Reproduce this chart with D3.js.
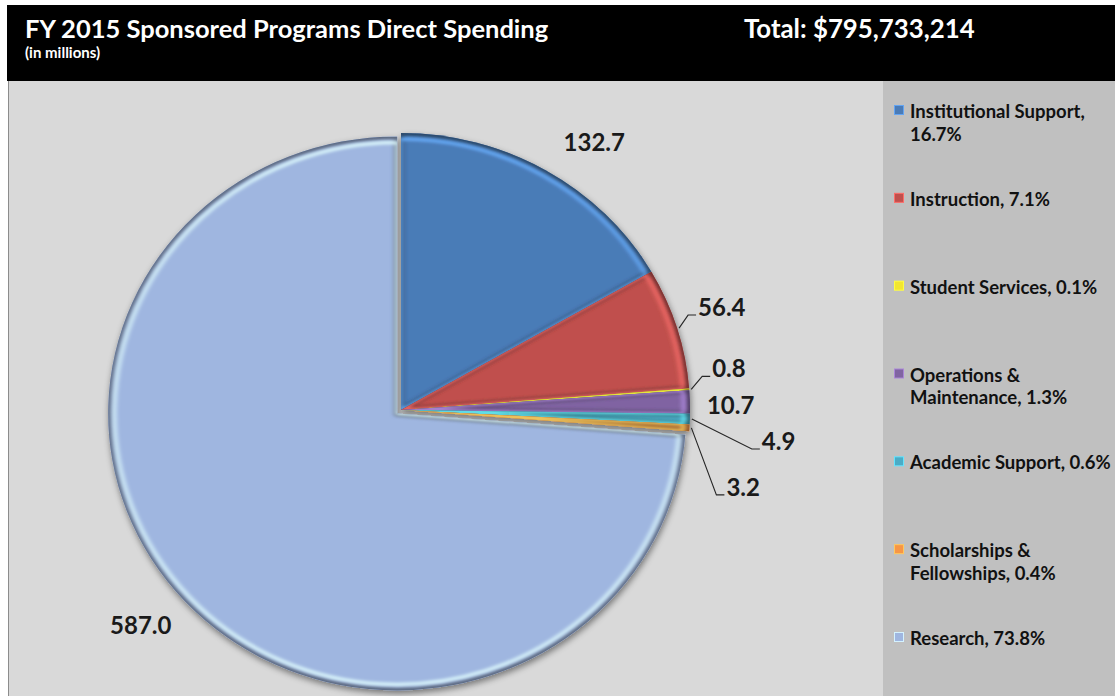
<!DOCTYPE html>
<html>
<head>
<meta charset="utf-8">
<script src="https://cdn.jsdelivr.net/npm/d3@7"></script>
<style>
  body { margin: 0; background: #ffffff; }
  svg { display: block; }
  text { font-family: Lato, "Open Sans", "DejaVu Sans", sans-serif; font-weight: bold; }
</style>
</head>
<body>
<svg id="chart" width="1115" height="696"></svg>
<script>
// Spending categories and amounts (in millions of dollars)
const categories = [
  "Institutional Support",
  "Instruction",
  "Student Services",
  "Operations & Maintenance",
  "Academic Support",
  "Scholarships & Fellowships",
  "Research"
];
const values = [132.7, 56.4, 0.8, 10.7, 4.9, 3.2, 587.0];
const colors = ["#4a7bb7", "#c0504d", "#f2e631", "#8064a2", "#4bacc6", "#f79646", "#9fb6e0"];
const titleText = "FY 2015 Sponsored Programs Direct Spending";
const subtitleText = "(in millions)";
const totalText = "Total: $795,733,214";

// Label placement: offset from the outer edge of each slice, and whether a leader line is drawn
const labelOffsets = [[18, -19], [21, -12], [23, -12], [17, 12], [72, 31], [37, 68], [-75, 32]];
const hasLeader = [false, true, true, false, true, true, false];

const W = 1115, H = 696;
const svg = d3.select("#chart");

// Backgrounds
svg.append("rect").attr("x", 0).attr("y", 0).attr("width", W).attr("height", H).attr("fill", "#ffffff");
svg.append("rect").attr("x", 9).attr("y", 80).attr("width", 874).attr("height", H - 80).attr("fill", "#d9d9d9");
svg.append("rect").attr("x", 883).attr("y", 80).attr("width", W - 883).attr("height", H - 80).attr("fill", "#c0c0c0");
svg.append("line").attr("x1", 8.5).attr("x2", 8.5).attr("y1", 80).attr("y2", H).attr("stroke", "#8c8c8c").attr("stroke-width", 1);
svg.append("rect").attr("x", 7).attr("y", 5).attr("width", W - 7).attr("height", 76).attr("fill", "#000000");

// Header
svg.append("text").attr("x", 25).attr("y", 38).attr("fill", "#ffffff").attr("font-size", 25.5).text(titleText);
svg.append("text").attr("x", 25).attr("y", 58).attr("fill", "#ffffff").attr("font-size", 15).text(subtitleText);
svg.append("text").attr("x", 744).attr("y", 38).attr("fill", "#ffffff").attr("font-size", 25.8).text(totalText);

// Pie geometry
const cx = 401, cy = 410, R = 277, sx = 289 / 277;
const total = d3.sum(values);
const pie = d3.pie().sort(null).value(d => d);
const arcs = pie(values);
const arc = d3.arc().innerRadius(0).outerRadius(R);
const innerArc = d3.arc().innerRadius(0).outerRadius(R - 6);
const explode = values.map((v, i) => (i === values.length - 1 ? 5 : 0));

const defs = svg.append("defs");
const shadow = defs.append("filter").attr("id", "shadow").attr("x", "-10%").attr("y", "-10%").attr("width", "120%").attr("height", "120%");
shadow.append("feDropShadow").attr("dx", 1).attr("dy", 3).attr("stdDeviation", 3).attr("flood-color", "#000").attr("flood-opacity", 0.45);
const soft = defs.append("filter").attr("id", "soft");
soft.append("feGaussianBlur").attr("stdDeviation", 1.8);

const pieG = svg.append("g").attr("filter", "url(#shadow)");

arcs.forEach((a, i) => {
  const mid = (a.startAngle + a.endAngle) / 2;
  const ox = Math.sin(mid) * explode[i] * sx;
  const oy = -Math.cos(mid) * explode[i];
  const g = pieG.append("g")
    .attr("transform", `translate(${cx + ox},${cy + oy}) scale(${sx},1)`);
  const clipId = "clip" + i;
  defs.append("clipPath").attr("id", clipId).append("path").attr("d", arc(a));
  const base = d3.color(colors[i]);
  g.append("path").attr("d", arc(a)).attr("fill", colors[i]);
  const sg = g.append("g").attr("clip-path", `url(#${clipId})`);
  // dark rim around each slice
  sg.append("path").attr("d", arc(a)).attr("fill", "none")
    .attr("stroke", base.darker(1.5)).attr("stroke-width", 6).attr("filter", "url(#soft)").attr("stroke-linejoin", "round");
  // light bevel just inside the rim
  sg.append("path").attr("d", innerArc(a)).attr("fill", "none")
    .attr("stroke", base.brighter(1)).attr("stroke-opacity", 0.85).attr("stroke-width", 3.5).attr("filter", "url(#soft)").attr("stroke-linejoin", "round");
});

// Value labels and leader lines
const labelG = svg.append("g");
arcs.forEach((a, i) => {
  const mid = (a.startAngle + a.endAngle) / 2;
  const ex = cx + Math.sin(mid) * (R + explode[i]) * sx;
  const ey = cy - Math.cos(mid) * (R + explode[i]);
  const tx = ex + labelOffsets[i][0];
  const ty = ey + labelOffsets[i][1];
  if (hasLeader[i]) {
    labelG.append("polyline")
      .attr("points", [[ex + 2, ey], [tx - 10, ty - 1], [tx - 2, ty - 1]].map(p => p.join(",")).join(" "))
      .attr("fill", "none").attr("stroke", "#262626").attr("stroke-width", 1.1);
  }
  labelG.append("text").attr("x", tx).attr("y", ty).attr("font-size", 24).attr("fill", "#1a1a1a")
    .text(d3.format(".1f")(values[i]));
});

// Legend
const legendY = d3.scalePoint().domain(categories).range([118, 645]);
const pct = d3.format(".1f");
const legend = svg.append("g");
categories.forEach((c, i) => {
  const y = legendY(c);
  const base = d3.color(colors[i]);
  legend.append("rect").attr("x", 894.5).attr("y", y - 12.5).attr("width", 9).attr("height", 9)
    .attr("fill", colors[i]).attr("stroke", base.brighter(0.8)).attr("stroke-width", 1);
  const label = `${c}, ${pct(values[i] / total * 100)}%`;
  const words = label.split(" ");
  const t = legend.append("text").attr("x", 910).attr("y", y).attr("font-size", 18.5).attr("fill", "#111");
  let line = [];
  let tspan = t.append("tspan").attr("x", 910).attr("dy", 0);
  words.forEach(w => {
    line.push(w);
    tspan.text(line.join(" "));
    if (tspan.node().getComputedTextLength() > 204 && line.length > 1) {
      line.pop();
      tspan.text(line.join(" "));
      line = [w];
      tspan = t.append("tspan").attr("x", 910).attr("dy", 22.5).text(w);
    }
  });
});
</script>
</body>
</html>
